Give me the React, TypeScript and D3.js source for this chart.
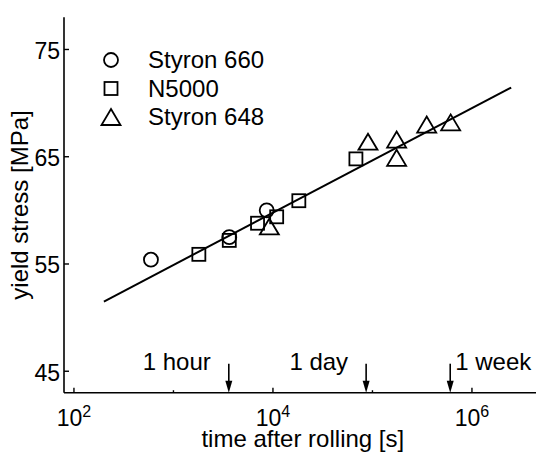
import React, { useEffect, useRef } from 'react';
import * as d3 from 'd3';

const width = 536;
const height = 454;

// Styron 660 (circles)
const s660Time = [594, 3640, 8650];
const s660Stress = [55.4, 57.5, 60.0];
// N5000 (squares)
const n5000Time = [1800, 3640, 7000, 10900, 18200, 68200];
const n5000Stress = [55.9, 57.2, 58.8, 59.4, 60.9, 64.8];
// Styron 648 (triangles)
const s648Time = [9200, 90200, 175000, 175000, 351000, 611000];
const s648Stress = [58.5, 66.4, 66.6, 64.9, 68.0, 68.2];

// fitted line end points
const fitTime = [200, 2.48e6];
const fitStress = [51.5, 71.45];

const xTicks = [1e2, 1e4, 1e6];
const xTickExp = ['2', '4', '6'];
const xMinorTicks = [1e3, 1e5];
const yTicks = [45, 55, 65, 75];

const legendNames = ['Styron 660', 'N5000', 'Styron 648'];
const legendShapes = ['circle', 'square', 'triangle'];
const eventNames = ['1 hour', '1 day', '1 week'];
const eventTimes = [3600, 86400, 604800];

const font = '"Liberation Sans", Arial, Helvetica, sans-serif';

const drawMarker = (g: any, shape: string, x: number, y: number) => {
    if (shape === 'circle') {
        g.append('circle').attr('cx', x).attr('cy', y).attr('r', 7)
            .attr('fill', 'none').attr('stroke', '#000').attr('stroke-width', 1.8);
    } else if (shape === 'square') {
        g.append('rect').attr('x', x - 6.5).attr('y', y - 6.5).attr('width', 13).attr('height', 13)
            .attr('fill', 'none').attr('stroke', '#000').attr('stroke-width', 1.8);
    } else {
        g.append('path')
            .attr('d', `M${x},${y - 8}L${x + 9.5},${y + 8}L${x - 9.5},${y + 8}Z`)
            .attr('fill', 'none').attr('stroke', '#000').attr('stroke-width', 1.8)
            .attr('stroke-linejoin', 'miter');
    }
};

const App = () => {
    const chartRef = useRef<SVGSVGElement | null>(null);

    useEffect(() => {
        const svg = d3.select(chartRef.current);
        svg.selectAll('*').remove();

        const left = 64, right = 541.6, top = 17.3, bottom = 392.7;

        const xScale = d3.scaleLog().domain([10 ** 1.9, 10 ** 6.7]).range([left, right]);
        const yScale = d3.scaleLinear().domain([43, 78]).range([bottom, top]);

        const g = svg.append('g').style('font-family', font);

        // axes lines
        g.append('line').attr('x1', left).attr('x2', width + 10).attr('y1', bottom).attr('y2', bottom)
            .attr('stroke', '#000').attr('stroke-width', 1.6);
        g.append('line').attr('x1', left).attr('x2', left).attr('y1', top).attr('y2', bottom)
            .attr('stroke', '#000').attr('stroke-width', 1.6);

        // y ticks
        yTicks.forEach((t) => {
            g.append('line').attr('x1', left).attr('x2', left + 5).attr('y1', yScale(t)).attr('y2', yScale(t))
                .attr('stroke', '#000').attr('stroke-width', 1.4);
            g.append('text').attr('x', left - 4).attr('y', yScale(t) + 9.5)
                .attr('text-anchor', 'end').style('font-size', '23px').text(t);
        });

        // x ticks
        xTicks.forEach((t, i) => {
            g.append('line').attr('x1', xScale(t)).attr('x2', xScale(t)).attr('y1', bottom).attr('y2', bottom - 5)
                .attr('stroke', '#000').attr('stroke-width', 1.4);
            const txt = g.append('text').attr('x', xScale(t)).attr('y', 426)
                .attr('text-anchor', 'middle').style('font-size', '23px');
            txt.append('tspan').text('10');
            txt.append('tspan').attr('dy', -9).style('font-size', '16px').text(xTickExp[i]);
        });
        xMinorTicks.forEach((t) => {
            g.append('line').attr('x1', xScale(t)).attr('x2', xScale(t)).attr('y1', bottom).attr('y2', bottom - 2.5)
                .attr('stroke', '#000').attr('stroke-width', 1.4);
        });

        // axis labels
        g.append('text').attr('x', (left + right) / 2).attr('y', 447)
            .attr('text-anchor', 'middle').style('font-size', '24px').text('time after rolling [s]');
        g.append('text').attr('transform', `translate(28, ${(top + bottom) / 2}) rotate(-90)`)
            .attr('text-anchor', 'middle').style('font-size', '24px').text('yield stress [MPa]');

        // fit line
        const line = d3.line<number>()
            .x((d, i) => xScale(fitTime[i]))
            .y((d) => yScale(d));
        g.append('path').attr('d', line(fitStress)).attr('fill', 'none')
            .attr('stroke', '#000').attr('stroke-width', 2);

        // data markers
        const series = [
            { time: s660Time, stress: s660Stress, shape: 'circle' },
            { time: n5000Time, stress: n5000Stress, shape: 'square' },
            { time: s648Time, stress: s648Stress, shape: 'triangle' },
        ];
        series.forEach((s) => {
            s.time.forEach((t, i) => drawMarker(g, s.shape, xScale(t), yScale(s.stress[i])));
        });

        // legend
        legendNames.forEach((name, i) => {
            const y = 60 + i * 28.5;
            drawMarker(g, legendShapes[i], 111, y);
            g.append('text').attr('x', 148).attr('y', y + 8).style('font-size', '24px').text(name);
        });

        // time markers (arrows)
        eventTimes.forEach((t, i) => {
            const x = xScale(t);
            g.append('line').attr('x1', x).attr('x2', x).attr('y1', bottom - 29).attr('y2', bottom - 10)
                .attr('stroke', '#000').attr('stroke-width', 1.6);
            g.append('path').attr('d', `M${x - 3.5},${bottom - 12}L${x + 3.5},${bottom - 12}L${x},${bottom}Z`)
                .attr('fill', '#000');
            const isLast = i === eventTimes.length - 1;
            g.append('text').attr('x', isLast ? x + 5 : x - 18).attr('y', bottom - 22.5)
                .attr('text-anchor', isLast ? 'start' : 'end').style('font-size', '24px').text(eventNames[i]);
        });
    }, []);

    return (
        <svg ref={chartRef} width={width} height={height}
            style={{ position: 'absolute', left: 0, top: 0, background: '#fff' }}></svg>
    );
};

export default App;
